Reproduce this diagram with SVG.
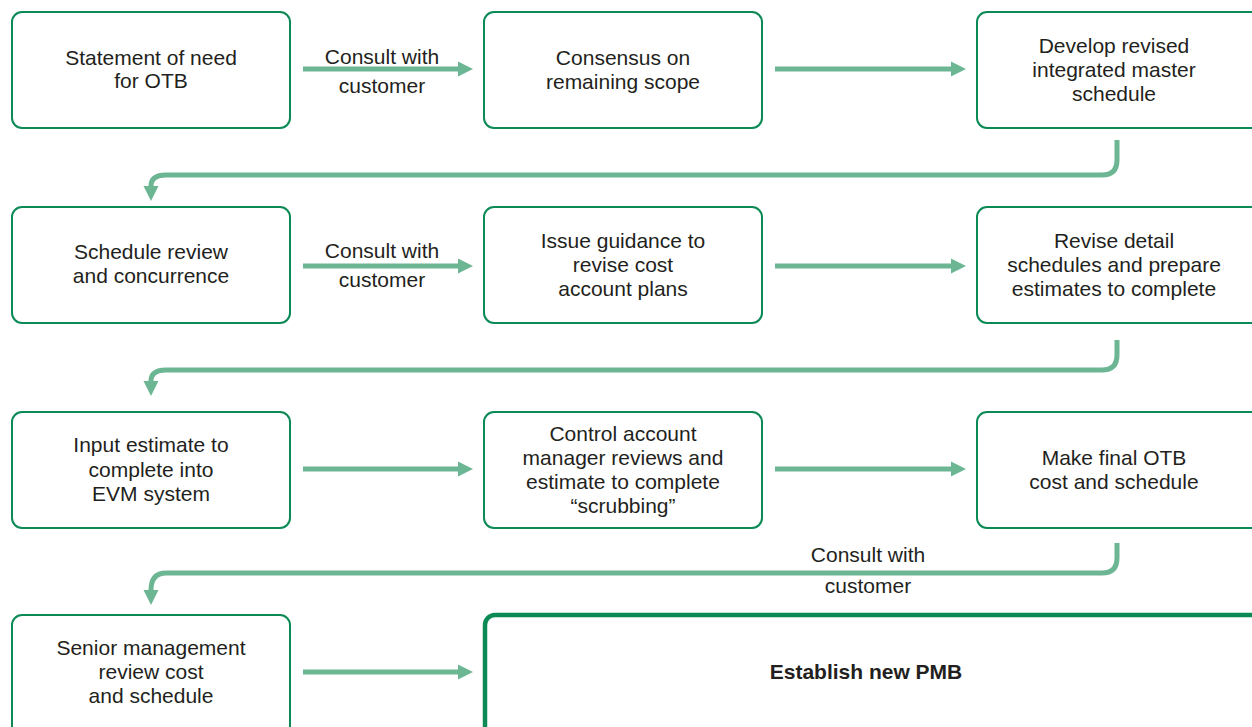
<svg xmlns="http://www.w3.org/2000/svg" width="1252" height="727" viewBox="0 0 1252 727">
<defs>
<style>
.box{fill:#fff;stroke:#0B8A55;stroke-width:2}
.final{fill:#fff;stroke:#0B8A55;stroke-width:4.5}
.t{font-family:"Liberation Sans",Arial,sans-serif;font-size:21px;fill:#231F20;text-anchor:middle}
.b{font-weight:bold}
.c{fill:none;stroke:#6DB694;stroke-width:5}
</style>
<marker id="ah" viewBox="0 0 10 10" refX="0" refY="5" markerWidth="3" markerHeight="3.6" markerUnits="strokeWidth" orient="auto">
<path d="M0,0 L10,5 L0,10 Z" fill="#6DB694"/>
</marker>
</defs>
<rect width="1252" height="727" fill="#fff"/>
<g id="connectors">
<line class="c" x1="303" y1="69" x2="458" y2="69" marker-end="url(#ah)"/>
<line class="c" x1="775" y1="69" x2="951" y2="69" marker-end="url(#ah)"/>
<path class="c" d="M1117,140 V160 Q1117,175 1102,175 H166 Q151,175 151,186" marker-end="url(#ah)"/>
<line class="c" x1="303" y1="266" x2="458" y2="266" marker-end="url(#ah)"/>
<line class="c" x1="775" y1="266" x2="951" y2="266" marker-end="url(#ah)"/>
<path class="c" d="M1117,340 V355 Q1117,370 1102,370 H166 Q151,370 151,381" marker-end="url(#ah)"/>
<line class="c" x1="303" y1="469" x2="458" y2="469" marker-end="url(#ah)"/>
<line class="c" x1="775" y1="469" x2="951" y2="469" marker-end="url(#ah)"/>
<path class="c" d="M1117,543 V558 Q1117,573 1102,573 H166 Q151,573 151,590" marker-end="url(#ah)"/>
<line class="c" x1="303" y1="672" x2="458" y2="672" marker-end="url(#ah)"/>
<text class="t" x="382" y="64">Consult with</text>
<text class="t" x="382" y="93">customer</text>
<text class="t" x="382" y="258">Consult with</text>
<text class="t" x="382" y="287">customer</text>
<text class="t" x="868" y="562">Consult with</text>
<text class="t" x="868" y="593">customer</text>
</g>
<g id="n1"><rect class="box" x="12" y="12" width="278" height="116" rx="10"/>
<text class="t" x="151" y="65">Statement of need</text><text class="t" x="151" y="88">for OTB</text></g>
<g id="n2"><rect class="box" x="484" y="12" width="278" height="116" rx="10"/>
<text class="t" x="623" y="65">Consensus on</text><text class="t" x="623" y="89">remaining scope</text></g>
<g id="n3"><rect class="box" x="977" y="12" width="285" height="116" rx="10"/>
<text class="t" x="1114" y="53">Develop revised</text><text class="t" x="1114" y="77">integrated master</text><text class="t" x="1114" y="101">schedule</text></g>
<g id="n4"><rect class="box" x="12" y="207" width="278" height="116" rx="10"/>
<text class="t" x="151" y="259">Schedule review</text><text class="t" x="151" y="283">and concurrence</text></g>
<g id="n5"><rect class="box" x="484" y="207" width="278" height="116" rx="10"/>
<text class="t" x="623" y="248">Issue guidance to</text><text class="t" x="623" y="272">revise cost</text><text class="t" x="623" y="296">account plans</text></g>
<g id="n6"><rect class="box" x="977" y="207" width="285" height="116" rx="10"/>
<text class="t" x="1114" y="248">Revise detail</text><text class="t" x="1114" y="272">schedules and prepare</text><text class="t" x="1114" y="296">estimates to complete</text></g>
<g id="n7"><rect class="box" x="12" y="412" width="278" height="116" rx="10"/>
<text class="t" x="151" y="452">Input estimate to</text><text class="t" x="151" y="477">complete into</text><text class="t" x="151" y="501">EVM system</text></g>
<g id="n8"><rect class="box" x="484" y="412" width="278" height="116" rx="10"/>
<text class="t" x="623" y="441">Control account</text><text class="t" x="623" y="465">manager reviews and</text><text class="t" x="623" y="489">estimate to complete</text><text class="t" x="623" y="513">“scrubbing”</text></g>
<g id="n9"><rect class="box" x="977" y="412" width="285" height="116" rx="10"/>
<text class="t" x="1114" y="465">Make final OTB</text><text class="t" x="1114" y="489">cost and schedule</text></g>
<g id="n10"><rect class="box" x="12" y="615" width="278" height="130" rx="10"/>
<text class="t" x="151" y="655">Senior management</text><text class="t" x="151" y="679">review cost</text><text class="t" x="151" y="703">and schedule</text></g>
<g id="n11"><rect class="final" x="485" y="615" width="780" height="130" rx="10"/>
<text class="t b" x="866" y="679">Establish new PMB</text></g>
</svg>
